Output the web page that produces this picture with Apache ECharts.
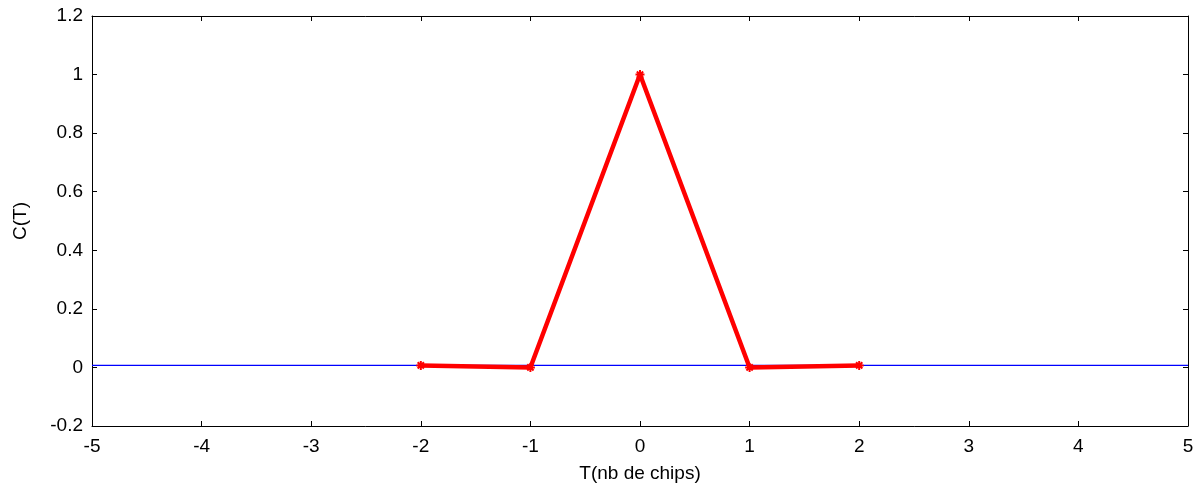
<!DOCTYPE html>
<html><head><meta charset="utf-8">
<script src="https://cdn.jsdelivr.net/npm/echarts@6/dist/echarts.min.js"></script>
<style>html,body{margin:0;padding:0;background:#fff}#c{width:1199px;height:489px}</style>
</head><body><div id="c"></div>
<script>
const tValues = [-2, -1, 0, 1, 2];
const cValues = [0.007, 0.0, 1.0, 0.0, 0.007];
const baseX = [-5, 5];
const baseY = [0.007, 0.007];
const xTicks = [-5, -4, -3, -2, -1, 0, 1, 2, 3, 4, 5];
const yTicks = [-0.2, 0, 0.2, 0.4, 0.6, 0.8, 1, 1.2];

const font = 'Liberation Sans, Arial, sans-serif';
const fs = 19;
const chart = echarts.init(document.getElementById('c'));
const axisCommon = {
  axisLine: {show: true, onZero: false, lineStyle: {color: '#000', width: 1}},
  axisTick: {show: true, inside: true, length: 5, lineStyle: {color: '#000'}},
  splitLine: {show: false}
};
chart.setOption({
  animation: false,
  grid: {left: 92, right: 11, top: 16, bottom: 63},
  xAxis: [
    Object.assign({type: 'value', min: -5, max: 5, interval: 1, position: 'bottom',
      name: 'T(nb de chips)', nameLocation: 'middle', nameGap: 38,
      nameTextStyle: {color: '#000', fontSize: fs, fontFamily: font},
      axisLabel: {color: '#000', fontSize: fs, fontFamily: font, margin: 11,
        formatter: v => xTicks.includes(v) ? String(v) : ''}}, axisCommon),
    Object.assign({type: 'value', min: -5, max: 5, interval: 1, position: 'top',
      axisLabel: {show: false}}, axisCommon)
  ],
  yAxis: [
    Object.assign({type: 'value', min: -0.2, max: 1.2, interval: 0.2, position: 'left',
      name: 'C(T)', nameLocation: 'middle', nameGap: 62, nameRotate: 90,
      nameTextStyle: {color: '#000', fontSize: fs, fontFamily: font},
      axisLabel: {color: '#000', fontSize: fs, fontFamily: font, margin: 9,
        formatter: v => { const r = Math.round(v * 10) / 10; return yTicks.includes(r) ? String(r) : ''; }}}, axisCommon),
    Object.assign({type: 'value', min: -0.2, max: 1.2, interval: 0.2, position: 'right',
      axisLabel: {show: false}}, axisCommon)
  ],
  series: [
    {type: 'line', data: baseX.map((x, i) => [x, baseY[i]]), symbol: 'none',
      lineStyle: {color: '#0000ff', width: 1.2}, z: 1},
    {type: 'line', data: tValues.map((t, i) => [t, cValues[i]]),
      symbol: 'path://M0,-5L0,5M-5,0L5,0M-3.5,-3.5L3.5,3.5M-3.5,3.5L3.5,-3.5', symbolSize: 9,
      itemStyle: {color: '#ff0000', borderColor: '#ff0000', borderWidth: 2},
      lineStyle: {color: '#ff0000', width: 4.5}, z: 2}
  ]
});
</script></body></html>
